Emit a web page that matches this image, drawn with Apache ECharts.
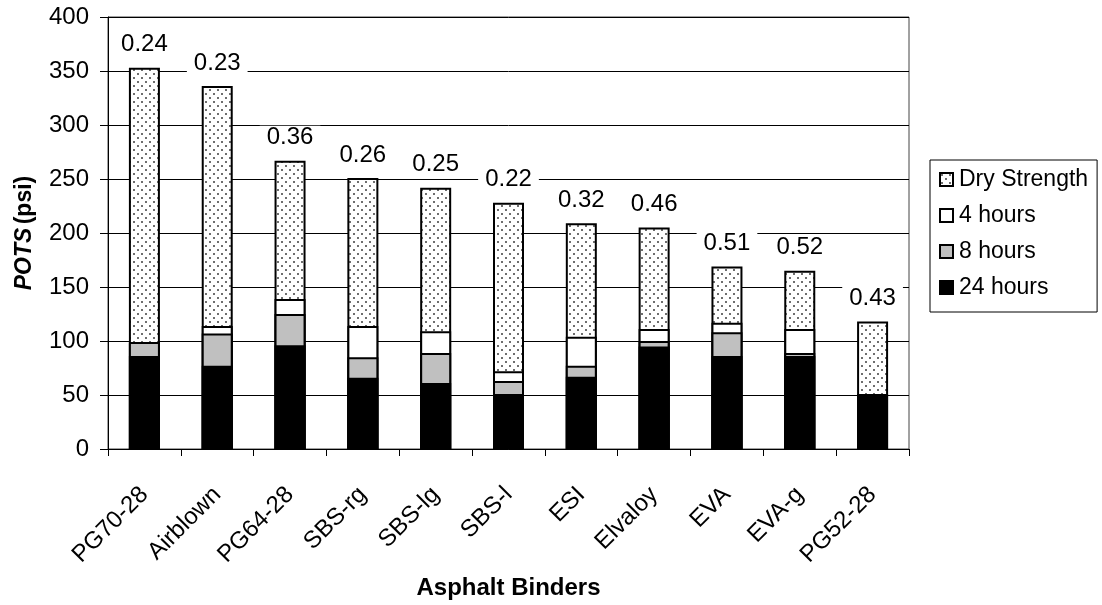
<!DOCTYPE html>
<html>
<head>
<meta charset="utf-8">
<script src="https://cdn.jsdelivr.net/npm/echarts@6/dist/echarts.min.js"></script>
<style>
html,body{margin:0;padding:0;background:#fff;}
#chart{width:1102px;height:605px;}
</style>
</head>
<body>
<div id="chart"></div>
<script>
var categories = ['PG70-28','Airblown','PG64-28','SBS-rg','SBS-lg','SBS-l','ESI','Elvaloy','EVA','EVA-g','PG52-28'];
var dryStrength = [353, 336, 267, 251, 242, 228, 209, 205, 169, 165, 118];
var hours4 = [98, 114, 139, 114, 109, 72, 104, 111, 117, 111, null];
var hours8 = [99, 107, 125, 85, 89, 63, 77, 100, 108, 89, null];
var hours24 = [86, 77, 96, 66, 61, 51, 67, 95, 86, 86, 51];
var ratioLabels = ['0.24','0.23','0.36','0.26','0.25','0.22','0.32','0.46','0.51','0.52','0.43'];
var yTicks = {min: 0, max: 400, interval: 50};

var FONT = 'Arial, "Liberation Sans", sans-serif';

function dotPattern() {
  var c = document.createElement('canvas');
  c.width = 8; c.height = 8;
  var g = c.getContext('2d');
  g.fillStyle = '#ffffff';
  g.fillRect(0, 0, 8, 8);
  g.fillStyle = '#6e6e6e';
  g.fillRect(1, 1, 2, 2);
  g.fillRect(5, 5, 2, 2);
  return c;
}

var chart = echarts.init(document.getElementById('chart'), null, {renderer: 'canvas'});
var barW = 31;
var common = {
  type: 'bar',
  barWidth: barW,
  barGap: '-100%',
  animation: false
};
var option = {
  animation: false,
  backgroundColor: '#ffffff',
  textStyle: {fontFamily: FONT, color: '#000'},
  grid: {left: 108, right: 193, top: 17, bottom: 156, show: true, borderColor: '#444', borderWidth: 1, backgroundColor: 'transparent', outerBoundsMode: 'none', containLabel: false},
  legend: {
    orient: 'vertical',
    left: 930,
    top: 160,
    padding: [8, 9, 13, 9],
    itemGap: 13,
    itemWidth: 13,
    itemHeight: 13,
    borderColor: '#000',
    borderWidth: 1,
    icon: 'rect',
    textStyle: {fontFamily: FONT, fontSize: 23, lineHeight: 23, color: '#000', padding: [0, 0, 0, 1]},
    data: ['Dry Strength', '4 hours', '8 hours', '24 hours']
  },
  xAxis: {
    type: 'category',
    data: categories,
    name: 'Asphalt Binders',
    nameLocation: 'middle',
    nameGap: 127,
    nameTextStyle: {fontFamily: FONT, fontSize: 24, fontWeight: 'bold', color: '#000'},
    axisLine: {lineStyle: {color: '#000', width: 1}},
    axisTick: {show: true, length: 7, lineStyle: {color: '#000'}, alignWithLabel: false},
    axisLabel: {rotate: 45, margin: 42, fontSize: 24, color: '#000', fontFamily: FONT, interval: 0},
    splitLine: {show: false}
  },
  yAxis: {
    type: 'value',
    min: yTicks.min,
    max: yTicks.max,
    interval: yTicks.interval,
    name: '{it|POTS} {n|(psi)}',
    nameLocation: 'middle',
    nameGap: 72,
    nameRotate: 90,
    nameTextStyle: {
      rich: {
        it: {fontFamily: FONT, fontSize: 23, fontWeight: 'bold', fontStyle: 'italic', color: '#000'},
        n: {fontFamily: FONT, fontSize: 23, fontWeight: 'bold', color: '#000'}
      }
    },
    axisLine: {show: true, lineStyle: {color: '#000', width: 1}},
    axisTick: {show: true, length: 8, lineStyle: {color: '#000'}},
    axisLabel: {fontSize: 24, margin: 19, color: '#000', fontFamily: FONT},
    splitLine: {show: true, lineStyle: {color: '#000', width: 1}}
  },
  series: [
    Object.assign({}, common, {
      name: 'Dry Strength',
      data: dryStrength,
      z: 2,
      itemStyle: {color: {image: dotPattern(), repeat: 'repeat'}, borderColor: '#000', borderWidth: 2},
      label: {
        show: true,
        position: 'top',
        distance: 11,
        fontFamily: FONT,
        fontSize: 24,
        color: '#000',
        backgroundColor: '#fff',
        padding: [0, 7],
        lineHeight: 24,
        formatter: function (p) { return ratioLabels[p.dataIndex]; }
      }
    }),
    Object.assign({}, common, {
      name: '4 hours',
      data: hours4,
      z: 3,
      itemStyle: {color: '#ffffff', borderColor: '#000', borderWidth: 2}
    }),
    Object.assign({}, common, {
      name: '8 hours',
      data: hours8,
      z: 4,
      itemStyle: {color: '#c0c0c0', borderColor: '#000', borderWidth: 2}
    }),
    Object.assign({}, common, {
      name: '24 hours',
      data: hours24,
      z: 5,
      itemStyle: {color: '#000000', borderColor: '#000', borderWidth: 2}
    })
  ]
};
chart.setOption(option);
</script>
</body>
</html>
